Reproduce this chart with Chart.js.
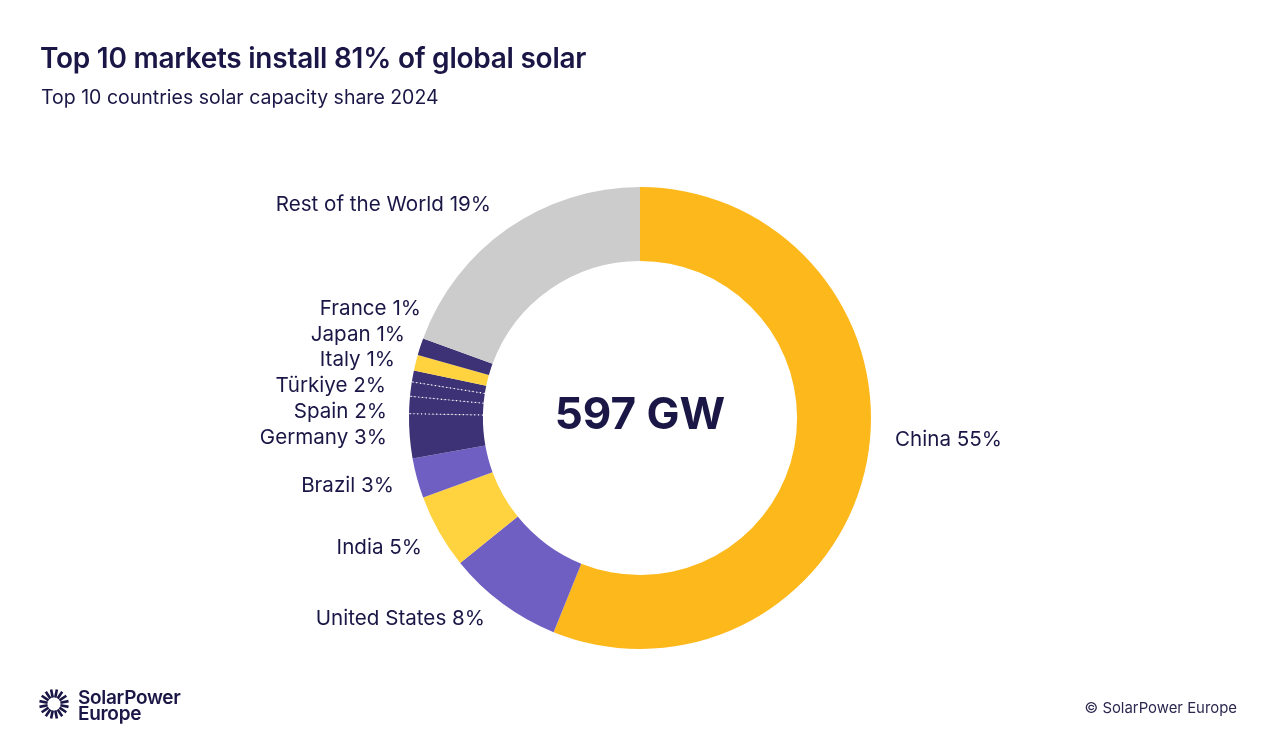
<!DOCTYPE html>
<html>
<head>
<meta charset="utf-8">
<script src="https://cdn.jsdelivr.net/npm/chart.js@4"></script>
<style>
  html, body { margin: 0; padding: 0; background: #fff; }
  body { width: 1280px; height: 748px; position: relative; overflow: hidden; color: #1a1646; font-family: Inter, sans-serif; }
  canvas { position: absolute; left: 0; top: 0; }
  .txt { position: absolute; white-space: nowrap; }
  #title { left: 40px; top: 40px; font-size: 28px; line-height: 36px; font-weight: 600; letter-spacing: -0.25px; }
  #subtitle { left: 41px; top: 84px; font-size: 19.5px; line-height: 26px; }
  #logoText { left: 78px; top: 690px; font-size: 19px; line-height: 16px; font-weight: 600; letter-spacing: -0.3px; }
  #copy { right: 43px; top: 698px; font-size: 14.9px; line-height: 20px; color: #2c2850; }
  #logo { position: absolute; left: 38px; top: 688px; }
</style>
</head>
<body>
<canvas id="chart" width="1280" height="748"></canvas>
<div class="txt" id="title">Top 10 markets install 81% of global solar</div>
<div class="txt" id="subtitle">Top 10 countries solar capacity share 2024</div>
<canvas id="logo" width="32" height="32"></canvas>
<div class="txt" id="logoText">SolarPower<br>Europe</div>
<div class="txt" id="copy">© SolarPower Europe</div>
<script>
// 値は画像から読み取り
const categories = ["China", "United States", "India", "Brazil", "Germany", "Spain", "Türkiye", "Italy", "Japan", "France", "Rest of the World"];
const printedShares = [55, 8, 5, 3, 3, 2, 2, 1, 1, 1, 19];
const sliceValues = [56.1, 8.1, 5.2, 2.8, 3.1, 1.2, 1.0, 0.8, 1.1, 1.2, 19.4];
const sliceColors = ["#fdb81b", "#6f5fc2", "#ffd23f", "#6f5fc2", "#3d3275", "#3d3275", "#3d3275", "#3d3275", "#ffd23f", "#3d3275", "#cccccc"];
const centerText = "597 GW";

// ラベルの右端と縦位置
const labelRight = [1002, 485, 422, 394, 387, 387, 386, 395, 405, 421, 491];
const labelMiddle = [440, 619, 548, 486, 438, 412, 386, 360, 335, 309, 205];
// 点線で区切るスライス
const dottedStarts = [5, 6, 7];

const textColor = "#1a1646";

const overlay = {
  id: "overlay",
  afterDatasetsDraw(chart) {
    const ctx = chart.ctx;
    const arcs = chart.getDatasetMeta(0).data;

    // 点線の区切り
    ctx.save();
    ctx.strokeStyle = "#ffffff";
    ctx.lineWidth = 1.2;
    ctx.setLineDash([1.2, 2.6]);
    dottedStarts.forEach(i => {
      const a = arcs[i];
      ctx.beginPath();
      ctx.moveTo(a.x + Math.cos(a.startAngle) * a.innerRadius, a.y + Math.sin(a.startAngle) * a.innerRadius);
      ctx.lineTo(a.x + Math.cos(a.startAngle) * a.outerRadius, a.y + Math.sin(a.startAngle) * a.outerRadius);
      ctx.stroke();
    });
    ctx.restore();

    // ラベル
    ctx.save();
    ctx.fillStyle = textColor;
    ctx.font = "400 20.6px Inter, sans-serif";
    ctx.textAlign = "right";
    ctx.textBaseline = "middle";
    categories.forEach((name, i) => {
      ctx.fillText(name + " " + printedShares[i] + "%", labelRight[i], labelMiddle[i]);
    });

    // 中央の数字
    ctx.font = "700 44px Inter, sans-serif";
    ctx.textAlign = "center";
    ctx.fillText(centerText, arcs[0].x, arcs[0].y - 2);
    ctx.restore();
  }
};

new Chart(document.getElementById("chart").getContext("2d"), {
  type: "doughnut",
  data: {
    labels: categories,
    datasets: [{
      data: sliceValues,
      backgroundColor: sliceColors,
      borderWidth: 0
    }]
  },
  options: {
    responsive: false,
    animation: false,
    cutout: "68%",
    layout: { padding: { top: 187, bottom: 99 } },
    plugins: {
      legend: { display: false },
      tooltip: { enabled: false }
    }
  },
  plugins: [overlay]
});

// ロゴの太陽マーク
const lg = document.getElementById("logo").getContext("2d");
lg.strokeStyle = textColor;
lg.lineWidth = 2.6;
lg.lineCap = "butt";
for (let i = 0; i < 16; i++) {
  const t = (i + 0.5) * Math.PI / 8;
  lg.beginPath();
  lg.moveTo(16 + Math.cos(t) * 6.5, 16 + Math.sin(t) * 6.5);
  lg.lineTo(16 + Math.cos(t) * 14.8, 16 + Math.sin(t) * 14.8);
  lg.stroke();
}
</script>
</body>
</html>
